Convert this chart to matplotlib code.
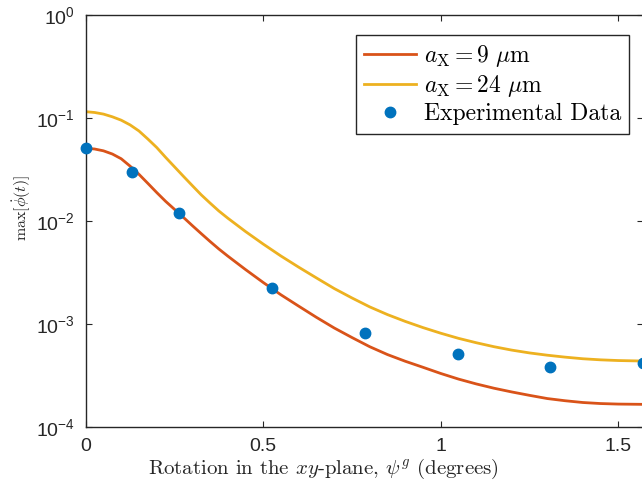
import matplotlib
matplotlib.use("Agg")
import matplotlib.pyplot as plt
from matplotlib.ticker import LogLocator, NullLocator

# Data
x_exp = [0.0, 0.1309, 0.2618, 0.5236, 0.7854, 1.0472, 1.3090, 1.5708]
y_exp = [0.0508, 0.0297, 0.0120, 0.00222, 0.000812, 0.000512, 0.000380, 0.000421]

x_model = [0.0, 0.025, 0.05, 0.075, 0.1, 0.125, 0.15, 0.175, 0.2, 0.225,
           0.25, 0.275, 0.3, 0.325, 0.35, 0.375, 0.4, 0.45, 0.5, 0.55,
           0.6, 0.65, 0.7, 0.75, 0.8, 0.85, 0.9, 0.95, 1.0, 1.05,
           1.1, 1.15, 1.2, 1.25, 1.3, 1.35, 1.4, 1.45, 1.5, 1.5708]

y_red = [0.0508, 0.0500, 0.0480, 0.0447, 0.0402, 0.0341, 0.0284, 0.0232,
         0.0189, 0.01553, 0.01299, 0.01086, 0.00904, 0.00756, 0.00634,
         0.00535, 0.00457, 0.00338, 0.00253, 0.00192, 0.00149, 0.00116,
         0.000915, 0.000739, 0.000602, 0.000505, 0.000435, 0.000380,
         0.000331, 0.000292, 0.000262, 0.000238, 0.000219, 0.000203,
         0.000189, 0.000180, 0.000173, 0.000169, 0.000167, 0.000166]

y_orange = [0.1151, 0.1131, 0.1091, 0.1027, 0.0952, 0.0857, 0.0748, 0.0625,
            0.0517, 0.0415, 0.0336, 0.0272, 0.0221, 0.0180, 0.01496,
            0.01251, 0.01067, 0.00791, 0.00597, 0.00457, 0.00356, 0.00280,
            0.00221, 0.00179, 0.001466, 0.001234, 0.001060, 0.000923,
            0.000814, 0.000726, 0.000658, 0.000602, 0.000558, 0.000524,
            0.000498, 0.000477, 0.000460, 0.000449, 0.000442, 0.000437]

x_ticks = [0, 0.5, 1, 1.5]
x_ticklabels = ["0", "0.5", "1", "1.5"]

RED = "#D95319"
ORANGE = "#EDB120"
BLUE = "#0072BD"
AXCOL = "#262626"

plt.rcParams["font.family"] = ["Liberation Sans", "DejaVu Sans"]
plt.rcParams["mathtext.fontset"] = "cm"

fig = plt.figure(figsize=(6.42, 4.91), dpi=100)
ax = fig.add_axes([0.1335, 0.1303, 0.8687, 0.8392])

ax.plot(x_model, y_red, color=RED, lw=2.0, label=r"$a_{\mathrm{X}} = 9\ \mu\mathrm{m}$")
ax.plot(x_model, y_orange, color=ORANGE, lw=2.0, label=r"$a_{\mathrm{X}} = 24\ \mu\mathrm{m}$")
ax.plot(x_exp, y_exp, "o", color=BLUE, ms=7.5, label="Experimental Data",
        clip_on=False, zorder=5)

ax.set_yscale("log")
ax.set_xlim(0, 1.5708)
ax.set_ylim(1e-4, 1e0)
ax.yaxis.set_major_locator(LogLocator(base=10, numticks=10))
ax.yaxis.set_minor_locator(NullLocator())
ax.set_xticks(x_ticks)
ax.set_xticklabels(x_ticklabels)

ax.tick_params(direction="in", length=4, width=0.8, colors=AXCOL,
               labelsize=14, top=True, right=True, pad=8)
for s in ax.spines.values():
    s.set_color(AXCOL)
    s.set_linewidth(1.0)

ax.set_xlabel(r"Rotation in the $xy$-plane, $\psi^g$ (degrees)",
              family="cmr10", fontsize=15, color=AXCOL)
ax.xaxis.set_label_coords(0.4255, -0.073)
ax.set_ylabel(r"$\max[\dot{\phi}(t)]$", fontsize=11.5, color=AXCOL)
ax.yaxis.set_label_coords(-0.0945, 0.5316)

leg = ax.legend(loc="upper right", bbox_to_anchor=(0.9742, 0.9515),
                borderaxespad=0, fancybox=False, framealpha=1,
                edgecolor=AXCOL, handlelength=2.2, handletextpad=0.3,
                prop={"family": "cmr10", "size": 17}, labelspacing=0.17,
                borderpad=0.35)
leg.get_frame().set_linewidth(1.0)

fig.savefig("out.png", dpi=100)
